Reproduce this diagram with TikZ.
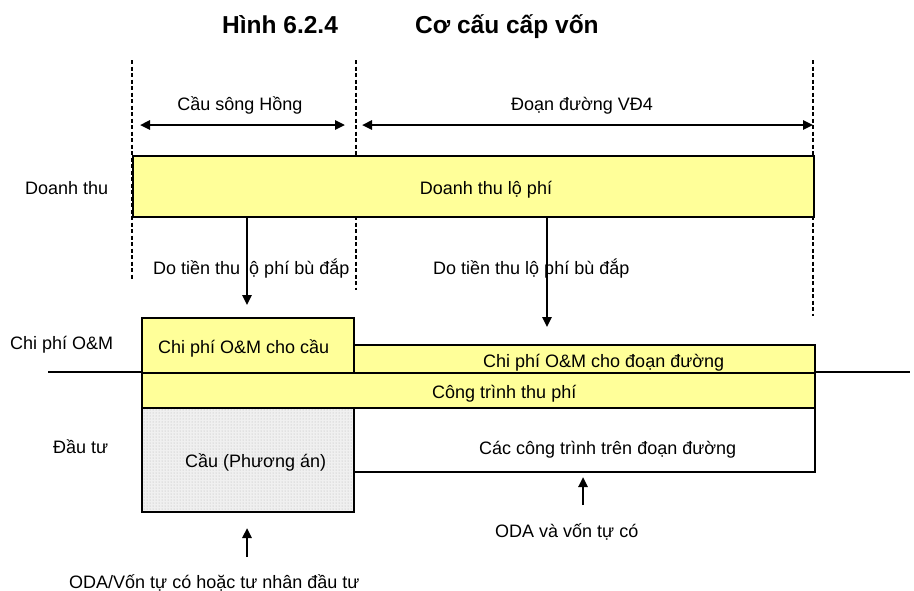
\documentclass[tikz,border=0pt]{standalone}
\usepackage{fontspec}
\setmainfont{Liberation Sans}
\usetikzlibrary{arrows.meta,patterns}
\definecolor{paleyellow}{HTML}{FFFF99}
\begin{document}
\begin{tikzpicture}[x=1pt,y=-1pt,
  lbl/.style={font=\fontsize{18}{21}\selectfont, inner sep=0pt},
  lblw/.style={lbl, anchor=base west},
  lblc/.style={lbl, anchor=base},
  ttl/.style={font=\bfseries\fontsize{24.5}{28}\selectfont, inner sep=0pt, anchor=base west},
  box/.style={draw=black, line width=1.5pt, inner sep=0pt, anchor=north west},
  yelbox/.style={box, fill=paleyellow},
  guide/.style={line width=1.7pt, dash pattern=on 4pt off 2.5pt},
  flow/.style={line width=2.4pt, -{Triangle[length=10pt,width=9pt]}},
  span/.style={line width=2.4pt, {Triangle[length=10pt,width=9pt]}-{Triangle[length=10pt,width=9pt]}}
]
\useasboundingbox (0,0) rectangle (914,590);

% title
\node[ttl] (t1) at (222,33) {Hình 6.2.4};
\node[ttl] (t2) at (415,33) {Cơ cấu cấp vốn};

% section guides
\draw[guide] (132,60) -- (132,280);
\draw[guide] (356,60) -- (356,290);
\draw[guide] (813,60) -- (813,316);

% section spans
\coordinate (s1a) at (140,125);
\coordinate (s1b) at (345,125);
\coordinate (s2a) at (362,125);
\coordinate (s2b) at (813,125);
\draw[span] (s1a) -- (s1b);
\draw[span] (s2a) -- (s2b);
\node[lblc] (bridgehdr) at (240,110) {Cầu sông Hồng};
\node[lblc] (roadhdr) at (582,110) {Đoạn đường VĐ4};

% revenue band
\node[yelbox, minimum width=681pt, minimum height=61pt] (rev) at (132,155) {};
\node[lblc] (revtxt) at (486,194) {Doanh thu lộ phí};

% row labels
\node[lblw] (rowrev) at (25,194) {Doanh thu};
\node[lblw] (rowom) at (10,349) {Chi phí O\&M};
\node[lblw] (rowinv) at (53,453) {Đầu tư};

% axis line between O&M and investment
\draw[line width=1.3pt] (48,372) -- (910,372);

% O&M boxes
\node[yelbox, minimum width=212pt, minimum height=55pt] (ombridge) at (141,317) {};
\node[yelbox, minimum width=461pt, minimum height=28pt] (omroad) at (353,344) {};
\node[lblw] (ombridgetxt) at (158,353) {Chi phí O\&M cho cầu};
\node[lblw] (omroadtxt) at (483,367) {Chi phí O\&M cho đoạn đường};

% toll facilities
\node[yelbox, minimum width=673pt, minimum height=35pt] (toll) at (141,372) {};
\node[lblw] (tolltxt) at (432,398) {Công trình thu phí};

% investment boxes
\node[box, minimum width=212pt, minimum height=104pt,
      preaction={fill=gray!12}, pattern=dots, pattern color=gray!60] (bridge) at (141,407) {};
\node[lblw] (bridgetxt) at (185,467) {Cầu (Phương án)};
\node[box, fill=white, minimum width=461pt, minimum height=64pt] (works) at (353,407) {};
\node[lblw] (workstxt) at (479,454) {Các công trình trên đoạn đường};

% revenue flows into O&M
\coordinate (f1) at (247,305);
\coordinate (f2) at (547,327);
\draw[flow] (rev.south -| f1) -- (f1);
\draw[flow] (rev.south -| f2) -- (f2);
\node[lblw] (cover1) at (153,274) {Do tiền thu lộ phí bù đắp};
\node[lblw] (cover2) at (433,274) {Do tiền thu lộ phí bù đắp};

% funding sources
\coordinate (u1a) at (247,557);
\coordinate (u1b) at (247,528);
\coordinate (u2a) at (583,505);
\coordinate (u2b) at (583,477);
\draw[flow] (u1a) -- (u1b);
\draw[flow] (u2a) -- (u2b);
\node[lblw] (fund1) at (69,588) {ODA/Vốn tự có hoặc tư nhân đầu tư};
\node[lblw] (fund2) at (495,537) {ODA và vốn tự có};
\end{tikzpicture}
\end{document}
